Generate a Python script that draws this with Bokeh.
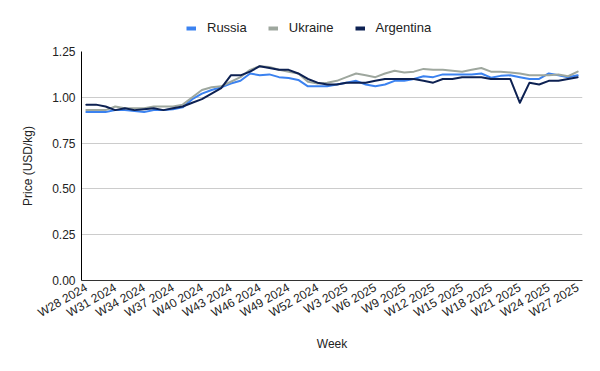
import math
from bokeh.plotting import figure
from bokeh.layouts import column
from bokeh.models import Range1d, FixedTicker, Legend, LegendItem, NumeralTickFormatter
from bokeh.embed import file_html
from bokeh.resources import INLINE

weeks = [f"W{w} 2024" for w in range(28, 53)] + [f"W{w} 2025" for w in range(1, 28)]

russia = [0.92, 0.92, 0.92, 0.93, 0.93, 0.925, 0.92, 0.93, 0.93, 0.935,
          0.945, 0.99, 1.02, 1.04, 1.055, 1.075, 1.09, 1.13, 1.12, 1.125,
          1.11, 1.105, 1.095, 1.06, 1.06, 1.06, 1.07, 1.08, 1.09, 1.07,
          1.06, 1.07, 1.09, 1.09, 1.10, 1.115, 1.11, 1.125, 1.125, 1.125,
          1.125, 1.13, 1.107, 1.117, 1.12, 1.11, 1.10, 1.10, 1.13, 1.12,
          1.11, 1.12]
ukraine = [0.93, 0.93, 0.93, 0.95, 0.94, 0.94, 0.94, 0.95, 0.95, 0.95,
           0.96, 1.00, 1.04, 1.055, 1.06, 1.085, 1.11, 1.15, 1.17, 1.165,
           1.15, 1.14, 1.13, 1.085, 1.075, 1.08, 1.09, 1.11, 1.13, 1.12,
           1.11, 1.13, 1.145, 1.135, 1.14, 1.155, 1.15, 1.15, 1.145, 1.14,
           1.15, 1.16, 1.14, 1.14, 1.135, 1.13, 1.12, 1.12, 1.12, 1.125,
           1.115, 1.14]
argentina = [0.96, 0.96, 0.95, 0.93, 0.94, 0.93, 0.935, 0.94, 0.93, 0.94,
             0.95, 0.97, 0.99, 1.02, 1.05, 1.12, 1.12, 1.14, 1.17, 1.16,
             1.15, 1.15, 1.13, 1.10, 1.08, 1.07, 1.07, 1.08, 1.08, 1.08,
             1.09, 1.10, 1.10, 1.10, 1.10, 1.09, 1.08, 1.10, 1.10, 1.11,
             1.11, 1.11, 1.10, 1.10, 1.10, 0.97, 1.08, 1.07, 1.09, 1.09,
             1.10, 1.11]

tick_idx = list(range(0, 52, 3))
y_ticks = [0, 0.25, 0.5, 0.75, 1.0, 1.25]

colors = {"Russia": "#3b82f0", "Ukraine": "#9ea79e", "Argentina": "#0d2152"}
FONT = "Liberation Sans"

x = list(range(len(weeks)))
series = [("Russia", russia), ("Ukraine", ukraine), ("Argentina", argentina)]

# ---- legend strip on top (its series lie outside its ranges; only swatches show) ----
TOP_H = 40
leg = figure(width=600, height=TOP_H, output_backend="svg", toolbar_location=None,
             x_axis_type=None, y_axis_type=None, x_range=Range1d(0, 1), y_range=Range1d(10, 11),
             min_border_left=81, min_border_right=18, min_border_top=0, min_border_bottom=0)
leg.outline_line_color = None
leg.xgrid.grid_line_color = None
leg.ygrid.grid_line_color = None
items = []
for name, vals in series:
    r = leg.line(x, vals, line_width=4, color=colors[name])
    items.append(LegendItem(label=name, renderers=[r]))
legend = Legend(items=items, orientation="horizontal", location=(105, 5),
                border_line_color=None, background_fill_alpha=0, padding=0, margin=0,
                spacing=21, label_standoff=11, glyph_width=10, glyph_height=14,
                label_text_font_size="13px", label_text_font=FONT,
                label_text_color="#222222")
leg.add_layout(legend, "center")

# ---- main chart ----
p = figure(width=600, height=371 - TOP_H, output_backend="svg", toolbar_location=None,
           x_range=Range1d(-0.5, len(weeks) - 0.5), y_range=Range1d(0, 1.25),
           min_border_left=81, min_border_right=18, min_border_top=51 - TOP_H,
           min_border_bottom=91)
p.outline_line_color = None
p.background_fill_color = "white"

for name, vals in series:
    p.line(x, vals, line_width=2, color=colors[name], line_join="round", line_cap="round")

p.xaxis.ticker = FixedTicker(ticks=tick_idx)
p.xaxis.major_label_overrides = {i: weeks[i] for i in tick_idx}
p.xaxis.major_label_orientation = math.pi / 6
p.xaxis.axis_label = "Week"
p.yaxis.axis_label = "Price (USD/kg)"
p.yaxis.ticker = FixedTicker(ticks=y_ticks)
p.yaxis.formatter = NumeralTickFormatter(format="0.00")

for ax in (p.xaxis, p.yaxis):
    ax.major_tick_line_color = None
    ax.minor_tick_line_color = None
    ax.major_label_text_font = FONT
    ax.major_label_text_font_size = "12px"
    ax.major_label_text_color = "#222222"
    ax.axis_label_text_font = FONT
    ax.axis_label_text_font_size = "12px"
    ax.axis_label_text_font_style = "normal"
    ax.axis_label_text_color = "#222222"

p.yaxis.axis_line_color = "#000000"
p.xaxis.axis_line_color = "#333333"
p.yaxis.major_label_standoff = 0
p.xaxis.major_label_standoff = 0
p.yaxis.axis_label_standoff = 14
p.xaxis.axis_label_standoff = 8

p.xgrid.grid_line_color = None
p.ygrid.grid_line_color = "#cccccc"
p.ygrid.ticker = FixedTicker(ticks=y_ticks)

layout = column(leg, p, spacing=0)
open("out.html", "w").write(file_html(layout, INLINE))
